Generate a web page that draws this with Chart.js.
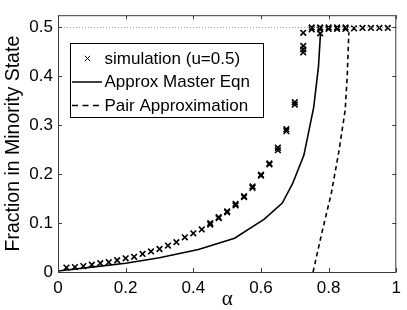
<!DOCTYPE html>
<html><head><meta charset="utf-8">
<script src="https://cdn.jsdelivr.net/npm/chart.js@4"></script>
<style>html,body{margin:0;padding:0;background:#fff}#wrap{width:407px;height:310px}</style>
</head><body><div id="wrap"><canvas id="c" width="407" height="310"></canvas></div>
<script>
// ---- data ----
const simAlpha = [0.025,0.05,0.075,0.1,0.125,0.15,0.175,0.2,0.225,0.25,0.275,0.3,0.325,0.35,0.375,0.4,0.425,
  0.45,0.45,0.475,0.475,0.5,0.5,0.525,0.525,0.55,0.55,0.575,0.575,0.6,0.6,0.625,0.625,0.65,0.65,0.675,0.675,0.7,0.7,
  0.725,0.725,0.725,0.725,0.75,0.75,0.775,0.775,0.775,0.8,0.8,0.825,0.825,0.85,0.85,0.875,0.9,0.925,0.95,0.975];
const simValue = [0.009,0.010,0.012,0.015,0.018,0.020,0.024,0.028,0.031,0.037,0.042,0.047,0.054,0.061,0.071,0.079,0.087,
  0.097,0.100,0.110,0.112,0.122,0.124,0.136,0.139,0.153,0.155,0.172,0.175,0.197,0.199,0.220,0.222,0.249,0.254,0.288,0.292,0.342,0.347,
  0.449,0.455,0.462,0.489,0.496,0.500,0.488,0.496,0.500,0.497,0.500,0.497,0.500,0.497,0.500,0.498,0.499,0.499,0.499,0.499];
const ameAlpha = [0,0.1,0.2,0.3,0.415,0.522,0.61,0.663,0.693,0.727,0.756,0.77,0.776];
const ameValue = [0.002,0.010,0.018,0.029,0.046,0.069,0.108,0.141,0.180,0.239,0.337,0.42,0.488];
const pairAlpha = [0.754,0.78,0.808,0.83,0.849,0.855,0.859,0.86];
const pairValue = [0,0.08,0.161,0.245,0.331,0.40,0.476,0.49];
const refAlpha = [0,1];
const refValue = [0.5,0.5];
const xTicks = [0,0.2,0.4,0.6,0.8,1];
const yTicks = [0,0.1,0.2,0.3,0.4,0.5];
const seriesNames = ['simulation (u=0.5)','Approx Master Eqn','Pair Approximation'];
const xTitle = 'α';
const yTitle = 'Fraction in Minority State';

const pts = (xs, ys) => xs.map((x,i)=>({x:x, y:ys[i]}));
const FONT = "'Liberation Sans', Arial, sans-serif";

const framePlugin = {
  id:'frame',
  afterDatasetsDraw(chart){
    const {ctx, chartArea:a, scales} = chart;
    ctx.save();
    ctx.strokeStyle = '#3a3a3a';
    ctx.lineWidth = 1;
    ctx.strokeRect(a.left+0.5, a.top+0.5, a.right-a.left-1, a.bottom-a.top);
    const L = 4;
    ctx.beginPath();
    xTicks.forEach(v=>{
      const px = Math.round(scales.x.getPixelForValue(v))+0.5;
      ctx.moveTo(px, a.bottom); ctx.lineTo(px, a.bottom-L);
      ctx.moveTo(px, a.top); ctx.lineTo(px, a.top+L);
    });
    yTicks.forEach(v=>{
      const py = Math.round(scales.y.getPixelForValue(v))+0.5;
      ctx.moveTo(a.left, py); ctx.lineTo(a.left+L, py);
      ctx.moveTo(a.right, py); ctx.lineTo(a.right-L, py);
    });
    ctx.stroke();
    // legend
    const bx = 70.5, by = 43.5, bw = 193, bh = 74;
    ctx.fillStyle = '#fff';
    ctx.fillRect(bx, by, bw, bh);
    ctx.strokeStyle = '#000';
    ctx.strokeRect(bx, by, bw, bh);
    const rows = [58.5, 82, 105.5];
    ctx.font = '17px ' + FONT;
    ctx.fillStyle = '#000';
    ctx.textBaseline = 'middle';
    ctx.textAlign = 'left';
    seriesNames.forEach((t,i)=>ctx.fillText(t, 104.5, rows[i]+0.5));
    // marker sample
    Chart.helpers.drawPoint(ctx, {pointStyle:'crossRot', radius:3.8, borderWidth:1.4}, 87.5, rows[0]);
    ctx.strokeStyle = '#000';
    ctx.lineWidth = 1.5;
    ctx.beginPath(); ctx.moveTo(72, rows[1]); ctx.lineTo(102, rows[1]); ctx.stroke();
    ctx.setLineDash([6,4.5]);
    ctx.beginPath(); ctx.moveTo(72, rows[2]); ctx.lineTo(102, rows[2]); ctx.stroke();
    ctx.restore();
  }
};

new Chart(document.getElementById('c'), {
  type:'scatter',
  data:{datasets:[
    {label:'ref', data:pts(refAlpha,refValue), showLine:true, borderColor:'#9a9a9a', borderWidth:1, borderDash:[1,2], pointRadius:0},
    {label:seriesNames[0], data:pts(simAlpha,simValue), showLine:false, pointStyle:'crossRot', pointRadius:4, borderColor:'#000', backgroundColor:'#000', pointBorderWidth:1.6},
    {label:seriesNames[1], data:pts(ameAlpha,ameValue), showLine:true, borderColor:'#000', borderWidth:1.6, pointRadius:0, tension:0},
    {label:seriesNames[2], data:pts(pairAlpha,pairValue), showLine:true, borderColor:'#000', borderWidth:1.6, borderDash:[4.5,3.5], pointRadius:0, tension:0}
  ]},
  options:{
    responsive:false, animation:false, devicePixelRatio:1,
    layout:{padding:{left:0,right:6,top:4,bottom:0}},
    plugins:{legend:{display:false}, tooltip:{enabled:false}},
    scales:{
      x:{type:'linear', min:0, max:1,
        afterBuildTicks(s){ s.ticks = xTicks.map(v=>({value:v})); },
        afterFit(s){ s.height = 38; },
        grid:{display:false, drawTicks:false}, border:{display:false},
        ticks:{color:'#000', padding:6, maxRotation:0, font:{family:FONT, size:17}, callback:v=>String(v)},
        title:{display:true, text:xTitle, color:'#000', padding:0, font:{family:"'Liberation Serif', 'DejaVu Serif', serif", size:21, lineHeight:1}}
      },
      y:{type:'linear', min:0, max:0.525,
        afterBuildTicks(s){ s.ticks = yTicks.map(v=>({value:v})); },
        afterFit(s){ s.width = 58; },
        grid:{display:false, drawTicks:false}, border:{display:false},
        ticks:{color:'#000', padding:5, font:{family:FONT, size:17}, callback:v=>String(v)},
        title:{display:true, text:yTitle, color:'#000', padding:{top:2,bottom:0}, font:{family:FONT, size:19.5, lineHeight:1.2}}
      }
    }
  },
  plugins:[framePlugin]
});
</script></body></html>
